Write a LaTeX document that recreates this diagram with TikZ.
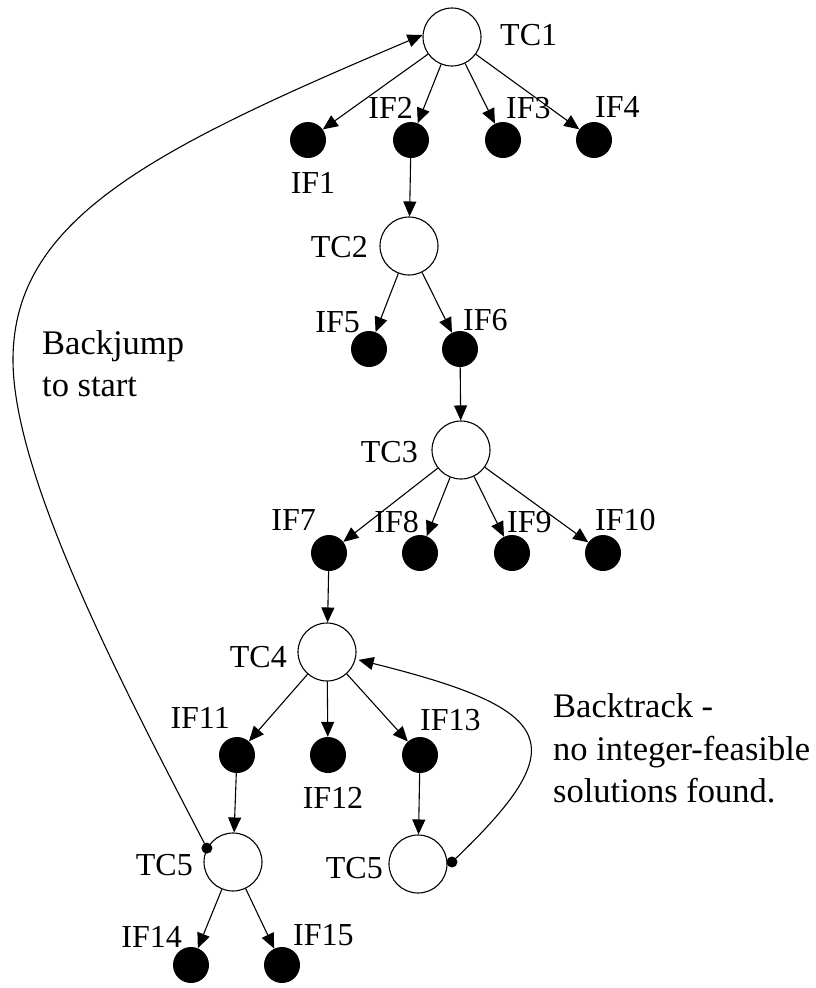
\documentclass[tikz,border=0pt]{standalone}
\usepackage{fontspec}
\setmainfont{Liberation Serif}
\usetikzlibrary{arrows.meta}
\begin{document}
\begin{tikzpicture}[x=1pt,y=-1pt,
  tc/.style={circle,draw,line width=1.1pt,minimum size=58pt,inner sep=0pt},
  ifd/.style={circle,fill=black,minimum size=36pt,inner sep=0pt},
  sdot/.style={circle,fill=black,minimum size=11pt,inner sep=0pt},
  lab/.style={font=\fontsize{32}{36}\selectfont,inner sep=0pt},
  note/.style={font=\fontsize{34.5}{42}\selectfont,inner sep=0pt,anchor=base west},
  arr/.style={line width=1.1pt,-{Triangle[length=15pt,width=13pt]}},
  ln/.style={line width=1.1pt}]
\useasboundingbox (0,0) rectangle (815,988);
% tree nodes
\node[tc] (TC1) at (452,37) {};
\node[ifd] (IF1) at (308,140) {};
\node[ifd] (IF2) at (411,140) {};
\node[ifd] (IF3) at (503,140) {};
\node[ifd] (IF4) at (594,140) {};
\node[tc] (TC2) at (409,246) {};
\node[ifd] (IF5) at (369,349) {};
\node[ifd] (IF6) at (460,349) {};
\node[tc] (TC3) at (461,450) {};
\node[ifd] (IF7) at (329,553) {};
\node[ifd] (IF8) at (420,553) {};
\node[ifd] (IF9) at (512,553) {};
\node[ifd] (IF10) at (603,553) {};
\node[tc] (TC4) at (327,652) {};
\node[ifd] (IF11) at (237,755) {};
\node[ifd] (IF12) at (328,755) {};
\node[ifd] (IF13) at (420,755) {};
\node[tc] (TC5a) at (233,862) {};
\node[tc] (TC5b) at (418,864) {};
\node[ifd] (IF14) at (191,965) {};
\node[ifd] (IF15) at (282,965) {};
\node[sdot] (dotL) at (TC5a.152) {};
\node[sdot] (dotR) at (452,862) {};
% labels
\node[lab,anchor=base west] (lTC1) at (500,45) {TC1};
\node[lab,anchor=base] (lIF1) at (313,193) {IF1};
\node[lab,anchor=base east] (lIF2) at (413,118) {IF2};
\node[lab,anchor=base west] (lIF3) at (506,118) {IF3};
\node[lab,anchor=base west] (lIF4) at (595,117) {IF4};
\node[lab,anchor=base east] (lTC2) at (368,257) {TC2};
\node[lab,anchor=base east] (lIF5) at (360,332) {IF5};
\node[lab,anchor=base west] (lIF6) at (463,330) {IF6};
\node[lab,anchor=base east] (lTC3) at (418,462) {TC3};
\node[lab,anchor=base east] (lIF7) at (316,530) {IF7};
\node[lab,anchor=base east] (lIF8) at (419,532) {IF8};
\node[lab,anchor=base west] (lIF9) at (507,532) {IF9};
\node[lab,anchor=base west] (lIF10) at (595,530) {IF10};
\node[lab,anchor=base east] (lTC4) at (287,667) {TC4};
\node[lab,anchor=base east] (lIF11) at (230,728) {IF11};
\node[lab,anchor=base] (lIF12) at (333,808) {IF12};
\node[lab,anchor=base west] (lIF13) at (420,730) {IF13};
\node[lab,anchor=base east] (lTC5a) at (193,875) {TC5};
\node[lab,anchor=base east] (lTC5b) at (383,878) {TC5};
\node[lab,anchor=base east] (lIF14) at (182,947) {IF14};
\node[lab,anchor=base west] (lIF15) at (293,945) {IF15};
% notes
\node[note] (bj1) at (42,354) {Backjump};
\node[note] (bj2) at (42,396) {to start};
\node[note] (bt1) at (553,717) {Backtrack -};
\node[note] (bt2) at (553,760) {no integer-feasible};
\node[note] (bt3) at (553,802) {solutions found.};
% tree connectors
\foreach \a/\b in {TC1/IF1,TC1/IF2,TC1/IF3,TC1/IF4,IF2/TC2,TC2/IF5,TC2/IF6,IF6/TC3,
  TC3/IF7,TC3/IF8,TC3/IF9,TC3/IF10,IF7/TC4,TC4/IF11,TC4/IF12,TC4/IF13,
  IF11/TC5a,IF13/TC5b,TC5a/IF14,TC5a/IF15}
  \draw[arr] (\a) -- (\b);
% backjump
\draw[arr] (dotL.center) .. controls (130,700) and (13,480) .. (13,360)
  .. controls (13,220) and (150,150) .. (TC1.176);
% backtrack
\draw[arr,shorten >=3pt] (dotR.center) .. controls (575,745) and (560,710) .. (TC4);
\end{tikzpicture}
\end{document}
